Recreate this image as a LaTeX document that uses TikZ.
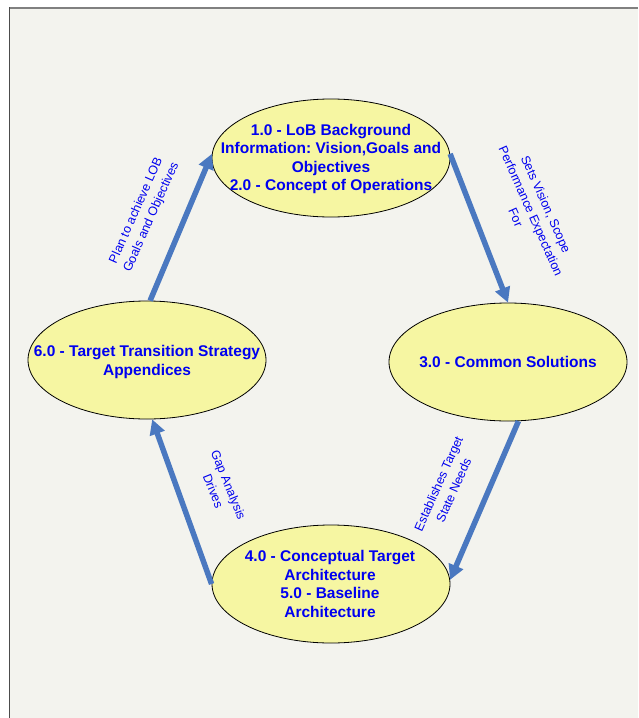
\documentclass[tikz,border=0pt]{standalone}
\usepackage{fontspec}
\setmainfont{Liberation Sans}
\frenchspacing
\usetikzlibrary{shapes.geometric,arrows.meta}
\definecolor{bgc}{HTML}{F3F3EE}
\definecolor{ellfill}{HTML}{F6F6A2}
\definecolor{arrc}{HTML}{4A78C0}
\definecolor{txtblue}{HTML}{0000F0}
\tikzset{
  ell/.style={ellipse, draw=black, line width=0.8pt, fill=ellfill, minimum width=238pt, minimum height=118pt, inner sep=0pt},
  etxt/.style={align=center, text=txtblue, font=\bfseries\fontsize{15.5}{18.5}\selectfont, inner sep=0pt},
  ltxt/.style={align=center, text=txtblue, font=\fontsize{12.5}{16.5}\selectfont, inner sep=0pt},
  conn/.style={draw=arrc, line width=5.5pt, -{Triangle[length=15pt,width=15pt]}}
}
\begin{document}
\begin{tikzpicture}[x=1pt,y=-1pt]
\useasboundingbox (0,0) rectangle (638,718);
\fill[white] (0,0) rectangle (638,718);
\fill[bgc] (10,8) rectangle (638,718);
\draw[gray, line width=2pt] (9,7.5) -- (638,7.5);
\draw[black!70, line width=1pt] (9.5,7) -- (9.5,718);

\node[ell] (top) at (331,158) {};
\node[ell] (right) at (508,362) {};
\node[ell] (left) at (147,360) {};
\node[ell] (bottom) at (331,584) {};

\node[etxt] (toptxt) at (331,159) {1.0 - LoB Background\\Information: Vision,Goals and\\Objectives\\2.0 - Concept of Operations};
\node[etxt] (righttxt) at (508,362) {3.0 - Common Solutions};
\node[etxt] (lefttxt) at (147,362) {6.0 - Target Transition Strategy\\Appendices};
\node[etxt] (bottomtxt) at (330,584) {4.0 - Conceptual Target\\Architecture\\5.0 - Baseline\\Architecture};

\draw[conn] (left.87) -- (top.178);
\draw[conn] (top.2) -- (right.90);
\draw[conn] (right.280) -- (bottom.2);
\draw[conn] (bottom.180) -- (left.275);

\node[ltxt, rotate=66] (lbl1) at (144,214) {Plan to achieve LOB\\Goals and Objectives};
\node[ltxt, rotate=-66] (lbl2) at (531,211) {Sets Vision, Scope\\Performance Expectation\\For};
\node[ltxt, rotate=66] (lbl3) at (446,487) {Establishes Target\\State Needs};
\node[ltxt, rotate=-68] (lbl4) at (221,488) {Gap Analysis\\Drives};
\end{tikzpicture}
\end{document}
